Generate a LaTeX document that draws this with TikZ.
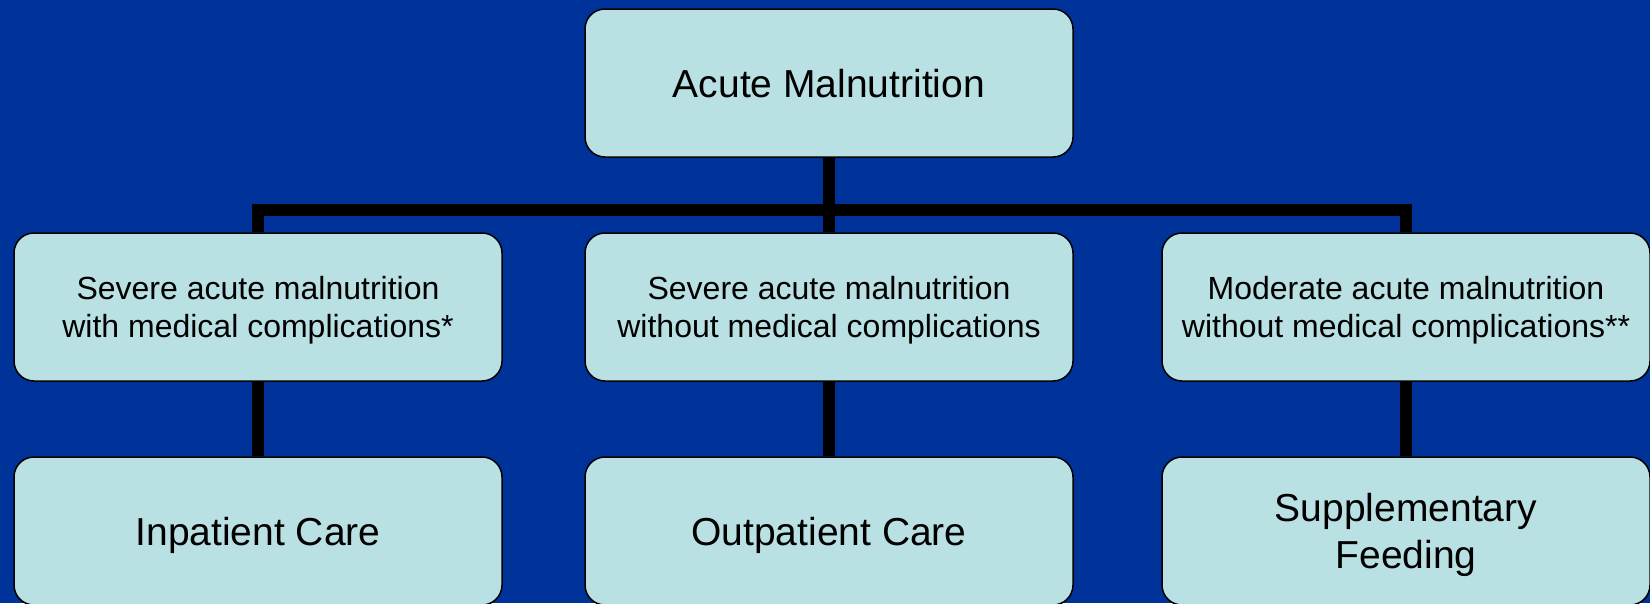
\documentclass[tikz,border=0pt]{standalone}
\usepackage{fontspec}
\setmainfont{Liberation Sans}
\usepackage{xcolor}
\usepackage{tikz}
\definecolor{slideblue}{HTML}{003399}
\definecolor{boxcyan}{HTML}{B9E0E3}
\tikzset{
	box/.style={draw=black,line width=1.5pt,fill=boxcyan,rounded corners=20pt,
		minimum width=488pt,minimum height=148pt,align=center,inner sep=0pt,text depth=0pt},
	bigtext/.style={font=\fontsize{39}{47}\selectfont},
	smalltext/.style={font=\fontsize{32}{37.5}\selectfont},
	link/.style={line width=12pt,black,line join=miter}
}

\begin{document}
\begin{tikzpicture}[x=1pt,y=-1pt]
	\fill[slideblue] (0,0) rectangle (1650,603);
	\useasboundingbox (0,0) rectangle (1650,603);
	% the three levels
	\node[box,bigtext] (acute) at (829,83) {Acute Malnutrition};
	\node[box,smalltext] (samcomp) at (258,307) {Severe acute malnutrition\\with medical complications*};
	\node[box,smalltext] (sam) at (829,307) {Severe acute malnutrition\\without medical complications};
	\node[box,smalltext] (mam) at (1406,307) {Moderate acute malnutrition\\without medical complications**};
	\node[box,bigtext] (inpat) at (258,531) {Inpatient Care};
	\node[box,bigtext] (outpat) at (829,531) {Outpatient Care};
	\node[box,bigtext] (suppl) at (1406,531) {Supplementary\\Feeding};
	% connectors
	\coordinate (bar) at (829,210);
	\draw[link] (acute.south) -- (sam.north);
	\draw[link] (samcomp.north) -- (samcomp.north |- bar) -- (mam.north |- bar) -- (mam.north);
	\draw[link] (samcomp.south) -- (inpat.north);
	\draw[link] (sam.south) -- (outpat.north);
	\draw[link] (mam.south) -- (suppl.north);
\end{tikzpicture}
\end{document}
